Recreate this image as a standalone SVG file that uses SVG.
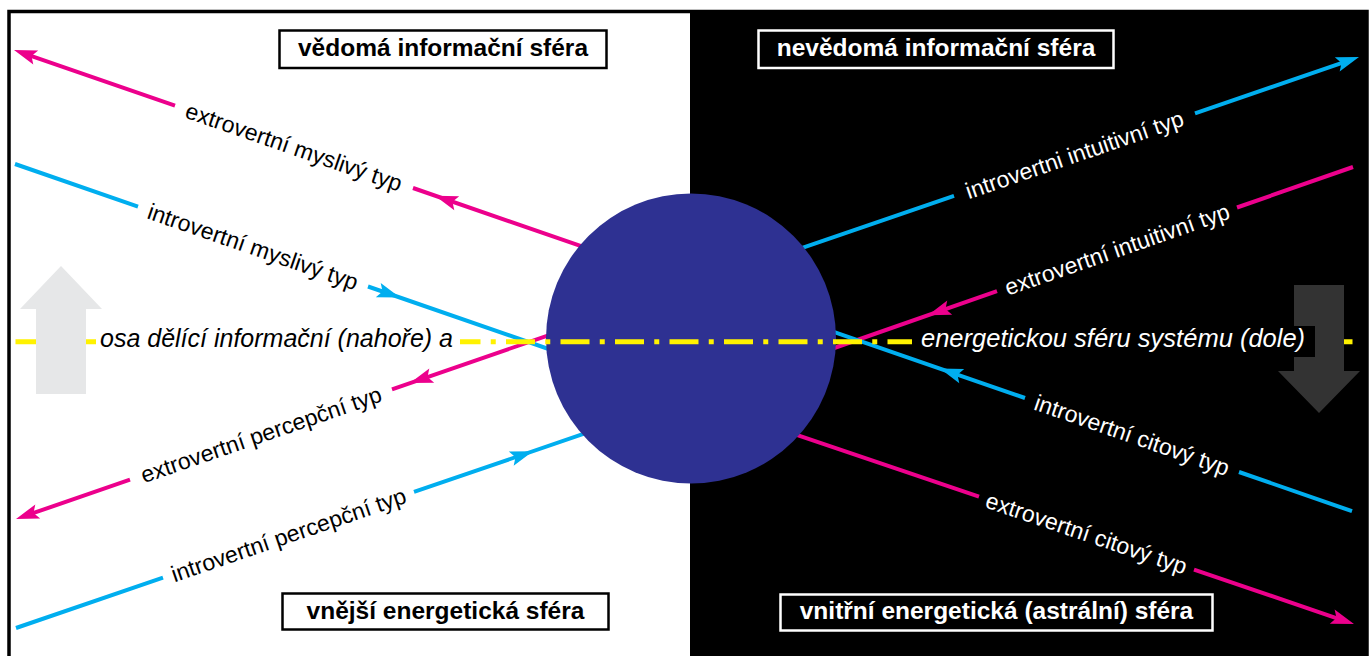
<svg xmlns="http://www.w3.org/2000/svg" xmlns:xlink="http://www.w3.org/1999/xlink" width="1372" height="656" viewBox="0 0 1372 656">
<style>
.mag{stroke:#ec008c;stroke-width:4;fill:none}
.cyan{stroke:#00aeef;stroke-width:4;fill:none}
.lbl{font-family:"Liberation Sans",Arial,sans-serif;font-size:23px;text-anchor:middle}
.dark{fill:#000}
.light{fill:#fff}
.axis{font-family:"Liberation Sans",Arial,sans-serif;font-size:25px;font-style:italic}
.box{font-family:"Liberation Sans",Arial,sans-serif;font-size:24.5px;font-weight:bold;text-anchor:middle}
</style>
<defs>
<path id="ah" d="M0,0 L-23,-7.5 L-18.5,0 L-23,7.5 Z"/>
</defs>
<rect x="0" y="0" width="1372" height="656" fill="#fff"/>
<rect x="690" y="11.5" width="677" height="650" fill="#000"/>
<g id="connectors">
<path class="mag" d="M28,54.8 L175,105.7 M413,188 L600,252.7"/>
<path class="cyan" d="M15,164 L138,206.7 M368,286.5 L560,353"/>
<path class="mag" d="M30,514.2 L130,479.7 M392,389.3 L560,331.3"/>
<path class="cyan" d="M16,628 L163,577.7 M414,491.9 L590,431.7"/>
<path class="cyan" d="M795,250.4 L954,195.9 M1195,113.3 L1345,61.8"/>
<path class="mag" d="M1353,167 L1237,207.5 M997,291.2 L830,349.5"/>
<path class="cyan" d="M830,330.6 L1025,398 M1239,472 L1352,511.2"/>
<path class="mag" d="M790,432.6 L979,496.7 M1194,569.6 L1340,619.3"/>
</g>
<g id="center">
<circle cx="691" cy="338.5" r="145" fill="#2e3192"/>
</g>
<g id="axis">
<line x1="15.5" y1="341.7" x2="1352.5" y2="341.7" stroke="#fff200" stroke-width="5" stroke-dasharray="29 10.25 5 10.25"/>
</g>
<g id="up-arrow">
<polygon points="61,266 102,309 86,309 86,394 36,394 36,309 20,309" fill="#e6e7e8"/>
</g>
<g id="down-arrow">
<polygon points="1294,285 1344,285 1344,371 1360,371 1319,413 1278,371 1294,371" fill="#333333"/>
</g>
<g id="axis-label-left">
<rect x="96" y="326" width="364" height="31" fill="#fff"/>
<text class="axis dark" x="100" y="347">osa dělící informační (nahoře) a</text>
</g>
<g id="axis-label-right">
<rect x="912" y="326" width="403" height="31" fill="#000"/>
<text class="axis light" x="921" y="347" style="font-size:25.5px">energetickou sféru systému (dole)</text>
</g>
<g id="arrowheads">
<use xlink:href="#ah" fill="#ec008c" transform="translate(14,50) rotate(199.1)"/>
<use xlink:href="#ah" fill="#ec008c" transform="translate(435,195.7) rotate(199.1)"/>
<use xlink:href="#ah" fill="#00aeef" transform="translate(400,297.6) rotate(19.1)"/>
<use xlink:href="#ah" fill="#ec008c" transform="translate(16,519) rotate(161)"/>
<use xlink:href="#ah" fill="#ec008c" transform="translate(410,383.1) rotate(161)"/>
<use xlink:href="#ah" fill="#00aeef" transform="translate(533,451.2) rotate(-18.9)"/>
<use xlink:href="#ah" fill="#00aeef" transform="translate(1359,57) rotate(-18.9)"/>
<use xlink:href="#ah" fill="#ec008c" transform="translate(928,315.2) rotate(160.8)"/>
<use xlink:href="#ah" fill="#00aeef" transform="translate(940,368.6) rotate(199.1)"/>
<use xlink:href="#ah" fill="#ec008c" transform="translate(1354,624) rotate(18.7)"/>
</g>
<g id="type-labels">
<text class="lbl dark" transform="translate(294,146.9) rotate(19.1)" dy="0.35em">extrovertní myslivý typ</text>
<text class="lbl dark" transform="translate(253,246.6) rotate(19.1)" dy="0.35em">introvertní myslivý typ</text>
<text class="lbl dark" transform="translate(261,434.5) rotate(-19)" dy="0.35em">extrovertní percepční typ</text>
<text class="lbl dark" transform="translate(288.5,534.8) rotate(-18.9)" dy="0.35em">introvertní percepční typ</text>
<text class="lbl light" transform="translate(1074.5,154.6) rotate(-18.9)" dy="0.35em">introvertni intuitivní typ</text>
<text class="lbl light" transform="translate(1117,249.3) rotate(-19.2)" dy="0.35em">extrovertní intuitivní typ</text>
<text class="lbl light" transform="translate(1132,435) rotate(19.1)" dy="0.35em">introvertní citový typ</text>
<text class="lbl light" transform="translate(1086.5,533.2) rotate(18.7)" dy="0.35em">extrovertní citový typ</text>
</g>
<g id="box-vedoma">
<rect x="279.5" y="30.5" width="327" height="37.5" fill="#fff" stroke="#000" stroke-width="2.5"/>
<text class="box dark" x="443" y="55.5">vědomá informační sféra</text>
</g>
<g id="box-nevedoma">
<rect x="758.5" y="30.5" width="355" height="37.5" fill="#000" stroke="#fff" stroke-width="2.5"/>
<text class="box light" x="936" y="55.5">nevědomá informační sféra</text>
</g>
<g id="box-vnejsi">
<rect x="282.5" y="593.5" width="326" height="36" fill="#fff" stroke="#000" stroke-width="2.5"/>
<text class="box dark" x="445.5" y="618.5">vnější energetická sféra</text>
</g>
<g id="box-vnitrni">
<rect x="780.5" y="594.5" width="432" height="36" fill="#000" stroke="#fff" stroke-width="2.5"/>
<text class="box light" x="996.5" y="619">vnitřní energetická (astrální) sféra</text>
</g>
<g id="frame">
<rect x="9" y="11.5" width="1358" height="700" fill="none" stroke="#000" stroke-width="3.5"/>
</g>
</svg>
